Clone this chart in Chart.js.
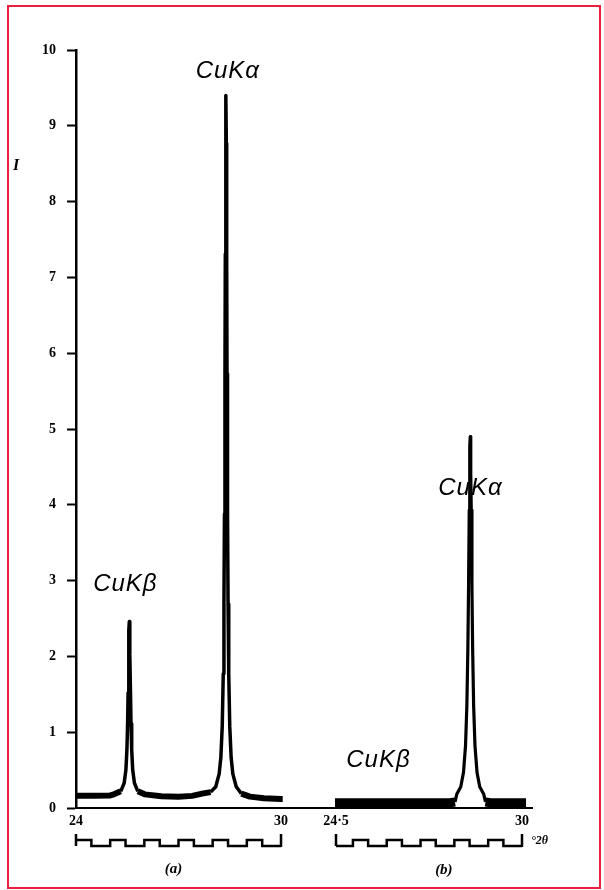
<!DOCTYPE html>
<html>
<head>
<meta charset="utf-8">
<title>CuK diffraction peaks</title>
<script src="https://cdn.jsdelivr.net/npm/chart.js@4.4.1/dist/chart.umd.min.js"></script>
<style>
  html, body { margin: 0; padding: 0; background: #fff; }
  #wrap { position: relative; width: 604px; height: 890px; }
  #frame { position: absolute; left: 7px; top: 5px; width: 590px; height: 880px; border: 2px solid #e8223c; }
  #chart { position: absolute; left: 0; top: 0; }
</style>
</head>
<body>
<div id="wrap">
  <div id="frame"></div>
  <canvas id="chart" width="604" height="890"></canvas>
</div>
<script>
// (a) trace: 2θ in degrees, intensity
const angleA = [24.00, 24.50, 25.00, 25.11, 25.31, 25.41, 25.46, 25.49, 25.51, 25.525, 25.54, 25.55,
  25.56, 25.57, 25.58, 25.595, 25.61, 25.63, 25.66, 25.71, 25.81, 26.01, 26.50, 27.00, 27.40,
  27.69, 27.94, 28.09, 28.19, 28.24, 28.28, 28.31, 28.33, 28.345, 28.36, 28.37, 28.38, 28.39,
  28.40, 28.41, 28.42, 28.435, 28.45, 28.47, 28.50, 28.54, 28.59, 28.69, 28.84, 29.09, 29.50,
  30.00, 30.05];
const intensityA = [0.16, 0.16, 0.165, 0.18, 0.22, 0.33, 0.50, 0.77, 1.11, 1.52, 2.03, 2.34,
  2.46, 2.34, 2.03, 1.52, 1.11, 0.77, 0.50, 0.33, 0.22, 0.18, 0.155, 0.15, 0.16,
  0.19, 0.21, 0.28, 0.45, 0.67, 1.08, 1.77, 2.69, 3.88, 5.73, 7.31, 8.77, 9.40,
  8.77, 7.31, 5.73, 3.88, 2.69, 1.77, 1.08, 0.67, 0.45, 0.28, 0.19, 0.15, 0.13,
  0.12, 0.12];

// (b) trace
const angleB = [24.47, 25.00, 25.50, 26.00, 26.50, 27.00, 27.50, 27.87, 28.02, 28.07, 28.19,
  28.27, 28.33, 28.37, 28.40, 28.42, 28.44, 28.45, 28.46, 28.47, 28.48, 28.49, 28.50, 28.52,
  28.54, 28.57, 28.61, 28.67, 28.75, 28.87, 28.92, 29.07, 29.50, 30.00, 30.12];
const intensityB = [0.07, 0.07, 0.07, 0.07, 0.07, 0.07, 0.07, 0.07, 0.08, 0.18, 0.28,
  0.47, 0.82, 1.35, 2.12, 2.92, 3.93, 4.42, 4.77, 4.90, 4.77, 4.42, 3.93, 2.92,
  2.12, 1.35, 0.82, 0.47, 0.28, 0.18, 0.08, 0.07, 0.07, 0.07, 0.07];

const yTicks = [0, 1, 2, 3, 4, 5, 6, 7, 8, 9, 10];
const ticksA = [24, 30];
const ticksB = [24.5, 30];

// peak names: [axis, 2θ, I, text]
const peakNotes = [
  ['xa', 25.43, 2.95, 'CuKβ'],
  ['xa', 28.43, 9.72, 'CuKα'],
  ['xb', 25.74, 0.63, 'CuKβ'],
  ['xb', 28.46, 4.22, 'CuKα']
];

const tickFont = { family: '"Liberation Serif", serif', size: 14, weight: 'bold' };

function toPoints(xs, ys) {
  return xs.map((x, i) => ({ x: x, y: ys[i] }));
}

function fixedTicks(values) {
  return (scale) => {
    scale.ticks = values.map((v) => ({ value: v }));
  };
}

function degLabel(value) {
  return String(value).replace('.', '·');
}

// square-wave degree scale under each panel
function degreeBracket(ctx, scale, from, to, base) {
  const top = base + 26;
  const high = base + 32;
  const low = base + 38;
  const px = (v) => scale.getPixelForValue(v);

  ctx.beginPath();
  ctx.moveTo(px(from), top);
  ctx.lineTo(px(from), low);
  ctx.moveTo(px(to), top);
  ctx.lineTo(px(to), low + 1);
  ctx.stroke();

  const breaks = [];
  for (let d = Math.floor(from); d <= to; d++) {
    if (d > from && d < to) breaks.push([d, high]);
    if (d + 0.45 > from && d + 0.45 < to) breaks.push([d + 0.45, low]);
  }
  let level = (from % 1) < 0.45 ? high : low;
  ctx.beginPath();
  ctx.moveTo(px(from), level);
  breaks.forEach(([v, next]) => {
    ctx.lineTo(px(v), level);
    ctx.lineTo(px(v), next);
    level = next;
  });
  ctx.lineTo(px(to), level);
  ctx.stroke();
}

const panelArt = {
  id: 'panelArt',
  afterDraw(chart) {
    const ctx = chart.ctx;
    const { xa, xb, y } = chart.scales;
    const base = chart.chartArea.bottom;

    ctx.save();
    ctx.strokeStyle = '#000';
    ctx.fillStyle = '#000';
    ctx.lineWidth = 2.5;
    degreeBracket(ctx, xa, 24, 30, base);
    degreeBracket(ctx, xb, 24.5, 30, base);

    ctx.textAlign = 'center';
    ctx.textBaseline = 'middle';
    ctx.font = 'italic bold 15px "Liberation Serif", serif';
    ctx.fillText('(a)', xa.getPixelForValue(26.85), base + 61);
    ctx.fillText('(b)', xb.getPixelForValue(27.69), base + 62);

    ctx.textAlign = 'left';
    ctx.font = 'italic bold 12px "Liberation Serif", serif';
    ctx.fillText('°2θ', xb.getPixelForValue(30) + 9, base + 33);

    ctx.textAlign = 'center';
    ctx.font = 'italic bold 16px "Liberation Serif", serif';
    ctx.fillText('I', chart.chartArea.left - 60, y.getPixelForValue(8.47));

    // peak names
    ctx.font = 'italic 24px "Liberation Sans", Arial, sans-serif';
    ctx.letterSpacing = '1px';
    peakNotes.forEach(([axis, x, v, text]) => {
      ctx.fillText(text, chart.scales[axis].getPixelForValue(x) + 0.5, y.getPixelForValue(v));
    });
    ctx.restore();
  }
};

function bottomAxis(min, max, weight, ticks) {
  return {
    type: 'linear',
    position: 'bottom',
    stack: 'deg',
    stackWeight: weight,
    min: min,
    max: max,
    afterBuildTicks: fixedTicks(ticks),
    afterFit: (s) => { s.height = 82; },
    ticks: {
      autoSkip: false,
      maxRotation: 0,
      padding: 5,
      color: '#000',
      font: tickFont,
      callback: degLabel
    },
    grid: { drawOnChartArea: false, drawTicks: false },
    border: { display: true, color: '#000', width: 2 }
  };
}

// thick noisy baseline, thinner line on the peaks
function traceWidth(limit, flat, peak) {
  return (c) => Math.max(c.p0.parsed.y, c.p1.parsed.y) <= limit ? flat : peak;
}

let chart = new Chart(document.querySelector('#chart'), {
  type: 'line',
  data: {
    datasets: [
      {
        data: toPoints(angleA, intensityA),
        xAxisID: 'xa',
        yAxisID: 'y',
        borderColor: '#000',
        borderWidth: 3.5,
        borderJoinStyle: 'round',
        pointRadius: 0,
        tension: 0,
        segment: { borderWidth: traceWidth(0.25, 6, 3.5) }
      },
      {
        data: toPoints(angleB, intensityB),
        xAxisID: 'xb',
        yAxisID: 'y',
        borderColor: '#000',
        borderWidth: 3,
        borderJoinStyle: 'round',
        pointRadius: 0,
        tension: 0,
        segment: { borderWidth: traceWidth(0.09, 9, 3.2) }
      }
    ]
  },
  options: {
    responsive: false,
    animation: false,
    layout: { padding: { left: 10, top: 50, right: 72, bottom: 0 } },
    plugins: {
      legend: { display: false },
      tooltip: { enabled: false }
    },
    scales: {
      xa: bottomAxis(24, 30.79, 232, ticksA),
      xb: bottomAxis(23.672, 30.296, 224, ticksB),
      y: {
        type: 'linear',
        position: 'left',
        min: 0,
        max: 10,
        afterBuildTicks: fixedTicks(yTicks),
        afterFit: (s) => { s.width = 66; },
        ticks: { padding: 11, color: '#000', font: tickFont },
        grid: {
          drawOnChartArea: false,
          drawTicks: true,
          tickLength: 9,
          tickWidth: 2,
          color: '#000'
        },
        border: { display: true, color: '#000', width: 2.5 }
      }
    }
  },
  plugins: [panelArt]
});
</script>
</body>
</html>
